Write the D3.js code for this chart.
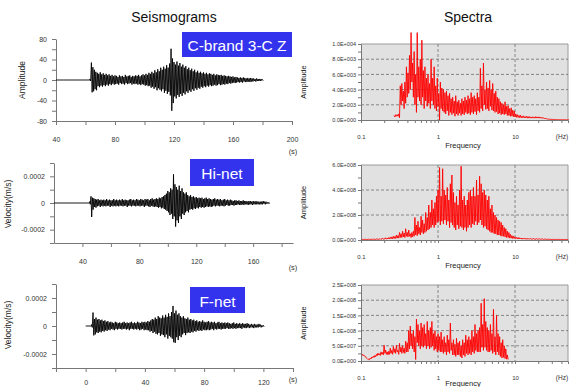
<!DOCTYPE html>
<html>
<head>
<meta charset="utf-8">
<script src="https://cdn.jsdelivr.net/npm/d3@7"></script>
<style>
body { margin: 0; background: #fff; }
text { font-family: "Liberation Sans", Arial, sans-serif; }
</style>
</head>
<body>
<svg id="chart" width="571" height="387"></svg>
<script>
// ---- seismograms: per-second positive and negative peaks
// C-brand 3-C Z (counts), quiet from 40 s, samples start at 63 s
var czQuiet = 40, czStart = 63;
var czUp = [2,34,25,20,16,14,12,15,11,13,
  10,12,9,11,8,10,7,9,8,6,
  9,7,8,6,10,7,8,9,6,8,
  7,9,8,10,7,9,11,9,12,10,
  14,12,16,13,19,15,21,17,24,20,
  26,22,29,24,32,61,42,35,30,36,
  28,33,26,30,24,27,21,24,19,22,
  17,20,15,18,14,16,13,15,12,14,
  11,13,12,10,12,9,11,10,9,10,
  8,9,8,7,8,7,6,7,5,6,
  5,4,5,4,5,4,3,4,3,4,
  3,3,2,3,2,2,2,1];
var czLo = [-2,-24,-22,-18,-20,-12,-14,-11,-13,-10,
  -12,-9,-11,-8,-10,-7,-9,-8,-7,-9,
  -6,-8,-7,-9,-6,-8,-7,-6,-9,-7,
  -8,-7,-9,-8,-10,-8,-9,-11,-10,-12,
  -11,-15,-13,-17,-14,-20,-16,-19,-22,-18,
  -25,-21,-27,-23,-30,-60,-45,-32,-36,-29,
  -33,-27,-31,-25,-28,-22,-25,-20,-23,-18,
  -21,-16,-19,-15,-17,-13,-15,-12,-14,-11,
  -13,-10,-12,-11,-9,-11,-10,-8,-10,-9,
  -8,-9,-7,-8,-6,-7,-6,-5,-6,-5,
  -4,-5,-4,-5,-3,-4,-4,-3,-4,-3,
  -3,-2,-3,-2,-2,-2,-1,-1];
// Hi-net (1e-5 m/s), quiet from 20 s, samples start at 45 s
var hiQuiet = 20, hiStart = 45;
var hiUp = [1,5,4,3.5,3,2.5,3,2,2.5,2,
  2.5,2,3,2,2.5,2,2,3,2,2.5,
  2,2.5,2,3,2,2.5,2,2,2.5,3,
  2,2.5,2,3,2.5,2,3,2.5,2,3,
  2.5,3,2,3,3.5,2.5,3,3.5,3,4,
  3.5,4.5,5,6,7,9,8,11,10,21.5,
  14,12,10,13,9,11,8,7,8,6,
  5,6,4.5,5,4,4.5,3.5,4,3.5,4,
  3,3.5,4,3,3.5,3,2.5,3,3.5,2.5,
  3,2.5,3,2,2.5,3,2,2.5,2,2.5,
  2,1.5,2,2,1.5,2,1.5,1.5,2,1.5,
  1.5,1,1.5,1.5,1,1.5,1,1.5,1,1,
  1,1,1.5,1,1,0.5,0.5];
var hiLo = [-1,-10.5,-5,-3,-3.5,-2.5,-2,-3,-2,-2.5,
  -2,-2.5,-2,-2,-3,-2,-2.5,-2,-2.5,-2,
  -2.5,-2,-2,-2.5,-2,-2,-3,-2,-2,-2.5,
  -2,-2,-2.5,-2,-2,-2.5,-2,-2,-3,-2,
  -2,-2.5,-3,-2,-2.5,-3,-2.5,-3,-3.5,-3,
  -4,-3.5,-4.5,-5,-6,-7,-9,-8,-12,-10,
  -17.7,-13,-15,-10,-12,-8,-9,-7,-6,-7,
  -5,-4.5,-5,-4,-4.5,-3.5,-4,-3,-3.5,-3,
  -3.5,-3,-2.5,-3,-2.5,-3,-2.5,-2,-2.5,-2,
  -2,-2.5,-2,-2,-2.5,-2,-1.5,-2,-2,-1.5,
  -1.5,-2,-1.5,-1.5,-1,-1.5,-1.5,-1,-1.5,-1,
  -1,-1.5,-1,-1,-1.5,-1,-1,-1,-1,-1,
  -1,-1,-0.5,-1,-0.5,-0.5,-0.5];
// F-net (1e-5 m/s), quiet from 0 s, samples start at 4 s
var fnQuiet = 0, fnStart = 4;
var fnUp = [1,9.6,5,6,4.5,5,4,4.5,3.5,4,
  3,3.5,2.5,3,2.5,2,3,2.5,2,2.5,
  2,2.5,3,2,2.5,2,2.5,3,2,2.5,
  2,3,2.5,2,3,2.5,3,2.5,3.5,3,
  4,5,4.5,6,5,7,6,5.5,7.5,6,
  8,6.5,9,7,10,14.3,9,11,8,9,
  7,6,7,5.5,5,6,4.5,5,4,4.5,
  3.5,4,3,3.5,3,4,3,2.5,3,3.5,
  2.5,3,2.5,3,2,2.5,3,2,2.5,2,
  2.5,2,2.5,2,1.5,2,2.5,1.5,2,1.5,
  2,1.5,2,1.5,1.5,2,1.5,1,1.5,1,
  1.5,1,1,1.5,1,0.5,0.5];
var fnLo = [-1,-6.7,-6,-4.5,-5,-4,-4.5,-3.5,-4,-3,
  -3.5,-2.5,-3,-2,-2.5,-3,-2,-2.5,-2,-2,
  -2.5,-2,-2,-2.5,-2,-3,-2,-2,-2.5,-2,
  -2.5,-2,-3,-2.5,-2,-3,-2.5,-3,-3,-4,
  -3.5,-5,-4,-5.5,-6,-5,-7,-6,-6.5,-8,
  -6,-9,-7,-8,-9,-11.6,-12,-8,-10,-7,
  -8,-6,-5,-6.5,-5,-4.5,-5,-4,-4.5,-3.5,
  -4,-3,-3.5,-3,-3.5,-2.5,-3,-3,-2.5,-3,
  -2.5,-2,-3,-2,-2.5,-2,-2,-2.5,-2,-2,
  -2,-1.5,-2,-2,-1.5,-2,-1.5,-2,-1.5,-1.5,
  -1.5,-2,-1,-1.5,-1.5,-1,-1.5,-1,-1,-1.5,
  -1,-1,-1,-0.5,-1,-0.5,-0.5];

// ---- spectra: peak and trough per 0.02 step in log10(frequency)
var logStep = 0.02;
var spec1Start = -0.57;  // amplitude in 1e3
var spec1Up = [0.6,0.7,0.7,0.8,4.5,4.8,3.8,5.0,7.0,6.2,
  8.5,11.5,7.5,9.0,6.0,11.5,7.0,8.0,10.5,6.5,
  7.0,5.5,6.0,4.8,8.0,5.5,7.0,4.5,5.5,3.5,
  5.0,4.2,4.0,3.6,3.8,3.2,3.5,2.8,3.0,2.5,
  3.2,2.4,2.6,2.2,2.8,2.5,3.0,2.6,3.2,2.8,
  3.6,3.0,3.2,2.8,3.6,3.0,6.8,4.5,7.5,4.0,
  5.0,4.2,5.2,4.0,4.8,3.5,3.8,3.0,2.8,2.4,
  2.2,2.0,2.4,1.8,1.9,1.5,1.6,1.3,1.2,0.8,
  0.7,0.6,0.65,0.5,0.55,0.45,0.5,0.45,0.45,0.4,
  0.42,0.4,0.45,0.4,0.42,0.38,0.35,0.3,0.25,0.18,
  0.15,0.12,0.1,0.08,0.07,0.06,0.05,0.05,0.04,0.04,
  0.04,0.03,0.03,0.03];
var spec1Lo = [0.4,0.5,0.5,0.3,2.0,2.5,1.5,2.2,3.0,3.5,
  4.0,5.0,3.0,2.0,1.0,3.0,2.5,2.0,3.0,1.5,
  2.5,1.8,2.2,1.5,2.5,2.0,1.5,1.2,1.8,0.0,
  1.5,1.2,1.0,0.8,1.2,0.6,1.0,0.7,0.9,0.5,
  0.8,0.6,0.9,0.6,0.8,0.7,1.0,0.8,0.9,0.7,
  1.0,0.8,1.1,0.7,1.2,1.0,1.5,1.2,2.0,1.4,
  1.5,1.2,1.8,1.3,1.2,1.0,1.1,0.8,0.9,0.7,
  0.8,0.7,0.8,0.6,0.6,0.5,0.5,0.45,0.4,0.35,
  0.35,0.3,0.3,0.3,0.28,0.28,0.25,0.25,0.25,0.25,
  0.25,0.25,0.25,0.25,0.25,0.22,0.2,0.18,0.14,0.1,
  0.08,0.07,0.06,0.05,0.04,0.04,0.03,0.03,0.03,0.02,
  0.02,0.02,0.02,0.02];
var spec2Start = -1;     // amplitude in 1e8
var spec2Up = [0.06,0.05,0.06,0.06,0.05,0.07,0.06,0.06,0.07,0.08,
  0.08,0.1,0.09,0.12,0.14,0.12,0.18,0.15,0.2,0.22,
  0.25,0.3,0.28,0.4,0.35,0.6,0.5,0.7,0.55,0.9,
  0.6,0.8,0.5,0.6,0.7,1.8,1.2,1.5,1.0,1.9,
  1.6,1.3,2.2,1.8,2.8,2.2,3.2,2.5,3.0,3.5,
  4.0,5.8,3.5,5.7,4.0,3.6,4.2,3.2,4.5,5.2,
  3.8,3.0,3.5,2.8,4.0,5.9,3.2,3.5,2.8,3.2,
  3.8,4.0,3.5,4.2,3.5,4.8,3.6,5.1,4.5,3.8,
  4.0,3.6,3.2,3.5,2.5,2.8,2.2,2.0,1.8,1.6,
  1.5,1.4,1.2,1.0,0.9,0.7,0.6,0.45,0.35,0.3,
  0.25,0.2,0.2,0.18,0.15,0.15,0.14,0.14,0.12,0.13,
  0.12,0.12,0.13,0.1,0.12,0.1,0.1,0.09,0.1,0.08,
  0.08,0.07,0.07,0.06,0.06,0.06,0.05,0.05,0.05,0.05,
  0.05,0.04,0.04,0.04,0.04];
var spec2Lo = [0.03,0.04,0.03,0.04,0.03,0.04,0.04,0.03,0.04,0.04,
  0.05,0.05,0.05,0.06,0.06,0.07,0.07,0.08,0.08,0.1,
  0.1,0.12,0.12,0.15,0.15,0.2,0.2,0.25,0.2,0.3,
  0.25,0.3,0.2,0.25,0.3,0.4,0.35,0.5,0.4,0.6,
  0.5,0.6,0.7,0.8,0.9,1.0,1.2,1.0,1.2,1.4,
  1.5,1.2,1.5,1.3,1.6,1.2,1.5,1.0,1.4,1.2,
  1.0,0.8,1.2,0.9,1.1,1.0,0.8,1.0,0.7,1.0,
  1.2,1.0,1.3,1.2,1.5,1.2,1.4,1.6,1.2,1.0,
  1.1,0.9,0.8,0.7,0.6,0.6,0.5,0.5,0.4,0.4,
  0.35,0.3,0.3,0.25,0.2,0.2,0.15,0.15,0.12,0.12,
  0.1,0.1,0.08,0.08,0.07,0.07,0.07,0.06,0.06,0.06,
  0.06,0.06,0.06,0.05,0.05,0.05,0.05,0.05,0.04,0.04,
  0.04,0.04,0.04,0.03,0.03,0.03,0.03,0.03,0.03,0.03,
  0.03,0.03,0.03,0.03,0.03];
var spec3Start = -1;     // amplitude in 1e8
var spec3Up = [0.2,0.22,0.19,0.14,0.08,0.06,0.1,0.13,0.16,0.18,
  0.22,0.26,0.24,0.3,0.28,0.52,0.36,0.3,0.32,0.42,
  0.35,0.48,0.4,0.52,0.35,0.58,0.45,0.5,0.42,0.65,
  0.6,1.0,1.15,0.9,1.0,0.8,1.38,1.2,1.0,1.25,
  1.1,1.2,0.9,1.3,1.0,1.1,1.3,0.9,1.0,0.8,
  0.9,0.8,0.95,0.7,0.8,0.6,0.85,0.7,1.25,0.6,
  0.7,0.55,0.75,0.6,0.65,0.5,0.7,0.6,0.85,0.7,
  0.8,0.7,1.0,0.8,1.2,0.9,1.0,1.1,1.9,1.2,
  2.05,1.3,1.1,1.0,1.2,0.9,1.7,0.8,1.5,0.9,
  0.8,0.6,0.7,0.5,0.4,0.2];
var spec3Lo = [0.17,0.18,0.15,0.1,0.05,0.04,0.07,0.1,0.12,0.14,
  0.17,0.2,0.18,0.22,0.2,0.25,0.22,0.2,0.22,0.25,
  0.22,0.28,0.25,0.3,0.22,0.3,0.25,0.28,0.25,0.3,
  0.3,0.4,0.5,0.4,0.3,0.05,0.6,0.5,0.4,0.5,
  0.45,0.5,0.4,0.5,0.4,0.45,0.5,0.35,0.4,0.3,
  0.35,0.3,0.3,0.25,0.3,0.2,0.3,0.25,0.35,0.2,
  0.2,0.15,0.2,0.2,0.15,0.1,0.2,0.15,0.25,0.2,
  0.25,0.2,0.3,0.25,0.35,0.3,0.3,0.3,0.45,0.35,
  0.45,0.35,0.3,0.3,0.35,0.25,0.3,0.2,0.3,0.2,
  0.15,0.1,0.12,0.08,0.06,0.05];

// ---- ticks and labels
var czYTicks = [-80,-60,-40,-20,0,20,40,60,80];
var czYLabels = ["-80","","-40","","0","","40","","80"];
var czXTicks = [40,60,80,100,120,140,160,180,200];
var czXLabels = ["40","","80","","120","","160","","200"];
var velYTicks = [-0.0003,-0.0002,-0.0001,0,0.0001,0.0002,0.0003];
var velYLabels = ["","-0.0002","","0","","0.0002",""];
var hiXTicks = [40,60,80,100,120,140,160,180];
var hiXLabels = ["40","","80","","120","","160",""];
var fnXTicks = [-20,0,20,40,60,80,100,120,140];
var fnXLabels = ["","0","","40","","80","","120",""];
var spec1Ticks = [0,1,2,3,4,5,6,7,8,9,10];
var spec1Labels = ["0.0E+000","","2.0E+003","","4.0E+003","","6.0E+003","","8.0E+003","","1.0E+004"];
var spec2Ticks = [0,1,2,3,4,5,6];
var spec2Labels = ["0.0E+000","","2.0E+008","","4.0E+008","","6.0E+008"];
var spec3Ticks = [0,0.25,0.5,0.75,1,1.25,1.5,1.75,2,2.25,2.5];
var spec3Labels = ["0.0E+000","","5.0E+007","","1.0E+008","","1.5E+008","","2.0E+008","","2.5E+008"];
var freqLabels = {0.1: "0.1", 1: "1", 10: "10"};

var svg = d3.select("#chart");

svg.append("text").attr("x", 174).attr("y", 22).attr("text-anchor", "middle")
  .attr("font-size", "14px").attr("fill", "#111").text("Seismograms");
svg.append("text").attr("x", 468).attr("y", 22).attr("text-anchor", "middle")
  .attr("font-size", "14px").attr("fill", "#111").text("Spectra");

function styleAxis(sel) {
  sel.selectAll("path, line").attr("stroke", "#777");
  sel.selectAll("text").attr("fill", "#333").attr("font-family", "Liberation Sans, Arial, sans-serif");
}

// interleave peaks and troughs into one zigzag trace
function zigzag(start, step, up, lo) {
  var pts = [];
  up.forEach(function(v, i) {
    pts.push([start + i * step, v]);
    pts.push([start + (i + 0.5) * step, lo[i]]);
  });
  return pts;
}

var seismogram = function(o) {
  var x = d3.scaleLinear().domain(o.xDomain).range([o.x0, o.x1]);
  var y = d3.scaleLinear().domain(o.yDomain).range([o.y1, o.y0]);
  var g = svg.append("g");

  var yAxis = d3.axisLeft(y).tickValues(o.yTicks).tickSize(4).tickSizeOuter(0).tickPadding(5)
    .tickFormat(function(d, i) { return o.yLabels[i]; });
  g.append("g").attr("transform", "translate(" + o.x0 + ",0)").call(yAxis)
    .attr("font-size", "7px").call(styleAxis);

  var xAxis = d3.axisBottom(x).tickValues(o.xTicks).tickSize(4).tickSizeOuter(0).tickPadding(o.xPad)
    .tickFormat(function(d, i) { return o.xLabels[i]; });
  g.append("g").attr("transform", "translate(0," + o.y1 + ")").call(xAxis)
    .attr("font-size", "7px").call(styleAxis);

  // flat lead-in before the first arrival, then the trace
  var pts = [[o.quiet, 0], [o.start, 0]].concat(zigzag(o.start, 1, o.up, o.lo));
  var line = d3.line()
    .x(function(d) { return x(d[0]); })
    .y(function(d) { return y(d[1] * o.unit); });
  g.append("path").datum(pts).attr("d", line)
    .attr("fill", "none").attr("stroke", "#000").attr("stroke-width", 0.9);

  g.append("text").attr("x", 293).attr("y", o.sY).attr("text-anchor", "middle")
    .attr("font-size", "7.5px").attr("fill", "#333").text("(s)");
  g.append("text").attr("transform", "translate(" + o.labX + "," + o.labY + ") rotate(-90)")
    .attr("text-anchor", "middle").attr("font-size", "8.5px").attr("fill", "#222").text(o.yTitle);

  // blue station tag
  g.append("rect").attr("x", o.tag[0]).attr("y", o.tag[1]).attr("width", o.tag[2]).attr("height", o.tag[3])
    .attr("fill", "#3333ee");
  g.append("text").attr("x", o.tag[0] + o.tag[2] / 2).attr("y", o.tag[1] + o.tag[3] / 2 + 1)
    .attr("text-anchor", "middle").attr("dominant-baseline", "central")
    .attr("font-size", "15.5px").attr("fill", "#fff").text(o.name);
};

var spectrum = function(o) {
  var x = d3.scaleLog().domain([0.1, 48.7]).range([361, 568]);
  var y = d3.scaleLinear().domain([0, o.yMax]).range([o.y1, o.y0]);
  var g = svg.append("g");

  g.append("rect").attr("x", 361).attr("y", o.y0).attr("width", 207).attr("height", o.y1 - o.y0)
    .attr("fill", "#e1e1e1");
  g.append("path").attr("d", "M361," + o.y0 + "H568V" + o.y1)
    .attr("fill", "none").attr("stroke", "#9a9a9a");

  var grid = o.ticks.filter(function(d, i) { return o.labels[i] !== "" && d > 0 && d < o.yMax; });
  g.selectAll(".hgrid").data(grid).enter().append("line")
    .attr("x1", 361).attr("x2", 568).attr("y1", function(d) { return y(d); }).attr("y2", function(d) { return y(d); })
    .attr("stroke", "#6e6e6e").attr("stroke-width", 0.8).attr("stroke-dasharray", "3,2");
  g.selectAll(".vgrid").data([1, 10]).enter().append("line")
    .attr("x1", function(d) { return x(d); }).attr("x2", function(d) { return x(d); })
    .attr("y1", o.y0).attr("y2", o.y1)
    .attr("stroke", "#6e6e6e").attr("stroke-width", 0.8).attr("stroke-dasharray", "3,2");

  var line = d3.line()
    .x(function(d) { return x(Math.pow(10, d[0])); })
    .y(function(d) { return y(d[1]); });
  g.append("path").datum(zigzag(o.start, logStep, o.up, o.lo)).attr("d", line)
    .attr("fill", "none").attr("stroke", "#ff0000").attr("stroke-width", 0.9);

  var yAxis = d3.axisLeft(y).tickValues(o.ticks).tickSizeOuter(0).tickPadding(2)
    .tickSize(3).tickFormat(function(d, i) { return o.labels[i]; });
  g.append("g").attr("transform", "translate(361,0)").call(yAxis)
    .attr("font-size", "5.5px").call(styleAxis);

  var minor = [];
  [0.1, 1, 10].forEach(function(dec) {
    for (var k = 1; k < 10; k++) { if (dec * k <= 48.7) minor.push(dec * k); }
  });
  var xAxis = d3.axisBottom(x).tickValues(minor).tickSizeOuter(0).tickSize(3).tickPadding(12)
    .tickFormat(function(d) { return freqLabels[+d.toPrecision(3)] || ""; });
  g.append("g").attr("transform", "translate(0," + o.y1 + ")").call(xAxis)
    .attr("font-size", "6px").call(styleAxis);

  g.append("text").attr("x", 562).attr("y", o.y1 + 19).attr("text-anchor", "middle")
    .attr("font-size", "6.5px").attr("fill", "#333").text("(Hz)");
  g.append("text").attr("x", 463).attr("y", Math.min(o.y1 + 28, 386)).attr("text-anchor", "middle")
    .attr("font-size", "7.5px").attr("fill", "#222").text("Frequency");
  g.append("text").attr("transform", "translate(306," + ((o.y0 + o.y1) / 2) + ") rotate(-90)")
    .attr("text-anchor", "middle").attr("font-size", "7.5px").attr("fill", "#222").text("Amplitude");
};

seismogram({ name: "C-brand 3-C Z", up: czUp, lo: czLo, quiet: czQuiet, start: czStart, unit: 1,
  xDomain: [40, 200], x0: 56, x1: 292, yDomain: [-80, 80], y0: 39, y1: 121,
  yTicks: czYTicks, yLabels: czYLabels, xTicks: czXTicks, xLabels: czXLabels, xPad: 12,
  yTitle: "Amplitude", labX: 25, labY: 80, sY: 154, tag: [182, 32, 110, 25] });
seismogram({ name: "Hi-net", up: hiUp, lo: hiLo, quiet: hiQuiet, start: hiStart, unit: 1e-5,
  xDomain: [20, 188], x0: 54, x1: 293, yDomain: [-0.0003, 0.0003], y0: 163, y1: 243,
  yTicks: velYTicks, yLabels: velYLabels, xTicks: hiXTicks, xLabels: hiXLabels, xPad: 12,
  yTitle: "Velocity(m/s)", labX: 11, labY: 204, sY: 270, tag: [190, 159, 64, 27] });
seismogram({ name: "F-net", up: fnUp, lo: fnLo, quiet: fnQuiet, start: fnStart, unit: 1e-5,
  xDomain: [-20, 140], x0: 56, x1: 293, yDomain: [-0.0003, 0.0003], y0: 284, y1: 368,
  yTicks: velYTicks, yLabels: velYLabels, xTicks: fnXTicks, xLabels: fnXLabels, xPad: 8,
  yTitle: "Velocity(m/s)", labX: 11, labY: 325, sY: 382, tag: [190, 287, 55, 26] });

spectrum({ up: spec1Up, lo: spec1Lo, start: spec1Start, yMax: 10, y0: 44, y1: 120, ticks: spec1Ticks, labels: spec1Labels });
spectrum({ up: spec2Up, lo: spec2Lo, start: spec2Start, yMax: 6, y0: 165, y1: 240, ticks: spec2Ticks, labels: spec2Labels });
spectrum({ up: spec3Up, lo: spec3Lo, start: spec3Start, yMax: 2.5, y0: 285, y1: 361, ticks: spec3Ticks, labels: spec3Labels });
</script>
</body>
</html>
